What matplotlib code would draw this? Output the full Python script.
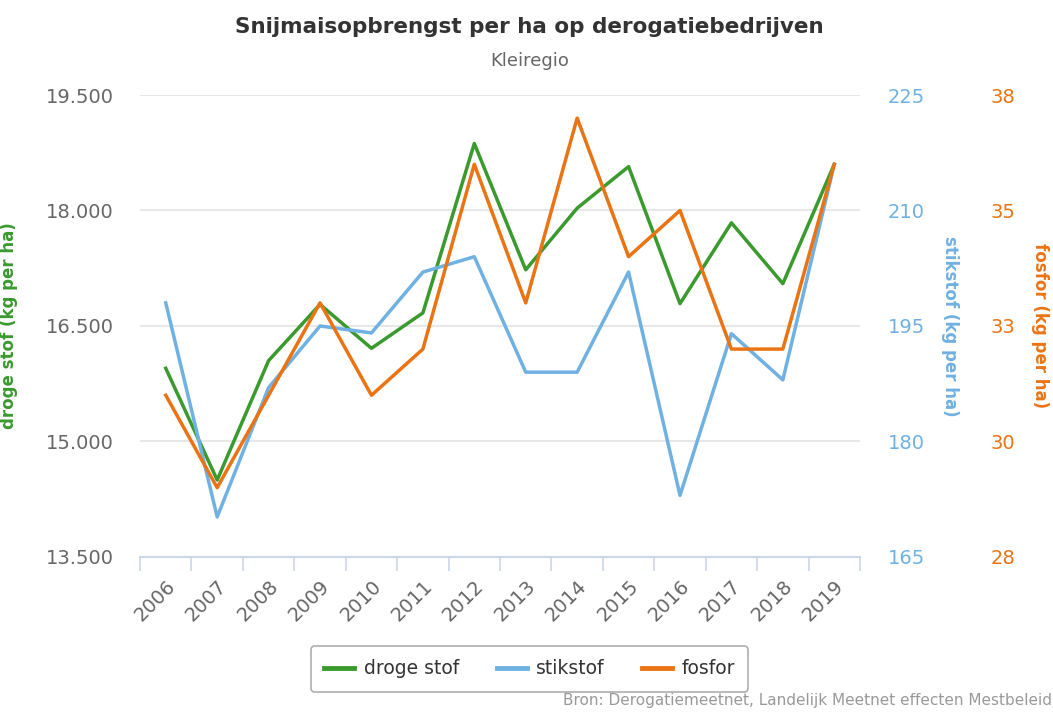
import numpy as np
import matplotlib
matplotlib.use('Agg')
import matplotlib.pyplot as plt
from matplotlib.ticker import FixedLocator, FuncFormatter

jaren = ['2006', '2007', '2008', '2009', '2010', '2011', '2012',
         '2013', '2014', '2015', '2016', '2017', '2018', '2019']
droge_stof = [15950, 14500, 16050, 16780, 16210, 16670, 18870,
              17230, 18030, 18570, 16790, 17840, 17050, 18600]
stikstof = [198, 170.2, 187, 195, 194.1, 202, 204,
            189, 189, 202, 173, 194, 188, 216]
fosfor = [31, 29, 31, 33, 31, 32, 36, 33, 37, 34, 35, 32, 32, 36]

links_ticks = [13500, 15000, 16500, 18000, 19500]
stik_ticks = [165, 180, 195, 210, 225]
fos_ticks = [27.5, 30, 32.5, 35, 37.5]
fos_labels = ['28', '30', '33', '35', '38']

groen = '#3a9a2e'
blauw = '#6fb1e2'
oranje = '#ea7414'
grijs = '#666666'

plt.rcParams['font.family'] = 'DejaVu Sans'

fig = plt.figure(figsize=(10.53, 7.17), dpi=100)
ax = fig.add_axes([0.133, 0.2232, 0.6837, 0.6443])
ax2 = ax.twinx()
ax3 = ax.twinx()

x = np.arange(len(jaren))
l1, = ax.plot(x, droge_stof, color=groen, lw=2.5, label='droge stof', zorder=3)
l2, = ax2.plot(x, stikstof, color=blauw, lw=2.5, label='stikstof', zorder=3)
l3, = ax3.plot(x, fosfor, color=oranje, lw=2.5, label='fosfor', zorder=3)

ax.set_xlim(-0.5, len(jaren) - 0.5)
ax.set_ylim(13500, 19500)
ax2.set_ylim(165, 225)
ax3.set_ylim(27.5, 37.5)

# grid en assen
ax.set_yticks(links_ticks)
ax.yaxis.set_major_formatter(FuncFormatter(lambda v, p: f'{int(v):,}'.replace(',', '.')))
ax.grid(axis='y', color='#e3e3e3', lw=1.2, zorder=0)
ax.tick_params(axis='y', length=0, pad=19, labelsize=14, labelcolor=grijs)

ax.set_xticks(x)
ax.set_xticklabels(jaren, rotation=45, ha='right', rotation_mode='anchor')
ax.tick_params(axis='x', which='major', length=0, pad=14, labelsize=14, labelcolor=grijs)
ax.xaxis.set_minor_locator(FixedLocator(np.arange(-0.5, len(jaren), 1.0)))
ax.tick_params(axis='x', which='minor', length=10, width=1.2, color='#ccd6eb')

for a in (ax, ax2, ax3):
    for s in a.spines.values():
        s.set_visible(False)
ax.spines['bottom'].set_visible(True)
ax.spines['bottom'].set_color('#ccd6eb')
ax.spines['bottom'].set_linewidth(1.5)

ax2.set_yticks(stik_ticks)
ax2.tick_params(axis='y', length=0, pad=20, labelsize=14, labelcolor=blauw)
ax3.set_yticks(fos_ticks)
ax3.set_yticklabels(fos_labels)
ax3.spines['right'].set_position(('axes', 1.16))
ax3.tick_params(axis='y', length=0, pad=11, labelsize=14, labelcolor=oranje)

ax.set_ylabel('droge stof (kg per ha)', color=groen, fontsize=12, fontweight='bold')
ax.yaxis.set_label_coords(-0.169, 0.5)
ax2.set_ylabel('stikstof (kg per ha)', color=blauw, fontsize=12, fontweight='bold', rotation=270, va='center')
ax2.yaxis.set_label_coords(1.125, 0.5)
ax3.set_ylabel('fosfor (kg per ha)', color=oranje, fontsize=12, fontweight='bold', rotation=270, va='center')
ax3.yaxis.set_label_coords(1.25, 0.5)

fig.text(0.503, 0.963, 'Snijmaisopbrengst per ha op derogatiebedrijven',
         ha='center', va='center', fontsize=15.5, fontweight='bold', color='#333333')
fig.text(0.503, 0.915, 'Kleiregio', ha='center', va='center', fontsize=13, color=grijs)

leg = fig.legend(handles=[l1, l2, l3], loc='center', bbox_to_anchor=(0.503, 0.067),
                 ncol=3, fontsize=13.5, frameon=True, fancybox=True, handlelength=1.6,
                 columnspacing=2.0, borderpad=0.7, handletextpad=0.5)
leg.get_frame().set_edgecolor('#999999')
leg.get_frame().set_linewidth(1.2)
for line in leg.get_lines():
    line.set_linewidth(3.5)
for t in leg.get_texts():
    t.set_color('#333333')

fig.text(0.999, 0.013, 'Bron: Derogatiemeetnet, Landelijk Meetnet effecten Mestbeleid',
         ha='right', va='bottom', fontsize=11, color='#999999')

fig.savefig('out.png', dpi=100)
